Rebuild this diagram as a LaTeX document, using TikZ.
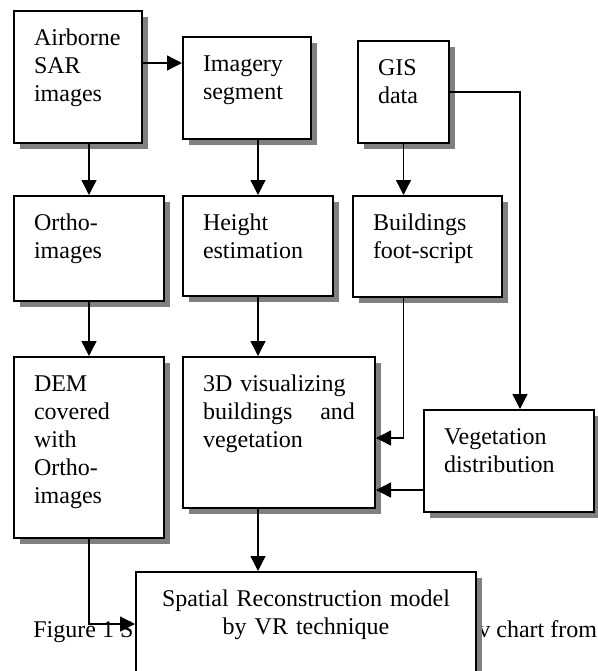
\documentclass[tikz,border=0pt]{standalone}
\usepackage{fontspec}
\setmainfont{Liberation Serif}
\usetikzlibrary{positioning, arrows.meta, shadows}

\begin{document}
\begin{tikzpicture}[
    box/.style={draw, rectangle, line width=1pt, fill=white, anchor=north west, align=left,
        font=\fontsize{12}{14}\selectfont, inner xsep=10pt, inner ysep=9pt, text height=8pt,
        drop shadow={shadow xshift=3pt, shadow yshift=-3pt, fill=black!50, opacity=1}},
    arr/.style={-{Triangle[length=7.5pt, width=7.5pt]}, line width=0.7pt},
    caption/.style={anchor=base west, inner sep=0pt, font=\fontsize{12}{14}\selectfont}
]
    \useasboundingbox (0,0) rectangle (299pt,-335.5pt);

    % caption sits under the last box
    \node[caption] (capl) at (16.5pt,-318.5pt) {Figure 1 S};
    \node[caption] (capr) at (239pt,-318.5pt) {v chart from};

    \node[box, text width=44pt, text depth=40pt] (sar) at (6.5pt,-5pt) {Airborne\\SAR\\images};
    \node[box, text width=55pt, text depth=26.5pt, below=25.5pt of sar.south west, anchor=north west] (ortho) {Ortho-\\images};
    \node[box, text width=55pt, text depth=64.5pt, below=27pt of ortho.south west, anchor=north west] (dem) {DEM\\covered\\with\\Ortho-\\images};
    \node[box, text width=55pt, text depth=24pt, right=8.5pt of ortho.north east, anchor=north west] (height) {Height\\estimation};
    \node[box, text width=76pt, text depth=49.5pt, right=8.5pt of dem.north east, anchor=north west] (vis) {3D visualizing\\buildings \hfill and\\vegetation};
    \node[box, text width=44pt, text depth=25pt, above=27.5pt of height.north west, anchor=south west] (imagery) {Imagery\\segment};
    \node[box, text width=54.5pt, text depth=24.5pt, right=9pt of height.north east, anchor=north west] (foot) {Buildings\\foot-script};
    \node[box, text width=25.5pt, text depth=25pt, above=25.5pt of foot.north west, anchor=south west, xshift=2.5pt] (gis) {GIS\\data};
    \node[box, text width=65pt, text depth=25pt, right=23.5pt of vis.north east, anchor=north west, yshift=-26.5pt] (veg) {Vegetation\\distribution};
    \node[box, text width=150pt, text depth=26pt, align=center, below=31pt of vis.south west, anchor=north west, xshift=-23.5pt] (spatial) {Spatial Reconstruction model\\by VR technique\hspace*{14pt}};

    \draw[arr] ([yshift=-26.5pt]sar.north east) -- ([yshift=-26.5pt]sar.north east -| imagery.west);
    \draw[arr] (ortho.north |- sar.south) -- (ortho.north);
    \draw[arr] (height.north |- imagery.south) -- (height.north);
    \draw[arr] (gis.south) -- (gis.south |- foot.north);
    \draw[arr] (ortho.south) -- (dem.north);
    \draw[arr] (height.south) -- (height.south |- vis.north);
    \draw[arr] (gis.south |- foot.south) |- ([yshift=-2.75pt]vis.east);
    \draw[arr] (gis.east) -| ([xshift=5.5pt]veg.north);
    \draw[arr] ([yshift=-14.5pt]veg.west) -- ([yshift=-14.5pt]veg.west -| vis.east);
    \draw[arr] (height.south |- vis.south) -- (height.south |- spatial.north);
    \draw[arr] (dem.south) |- (spatial.west);
\end{tikzpicture}
\end{document}
